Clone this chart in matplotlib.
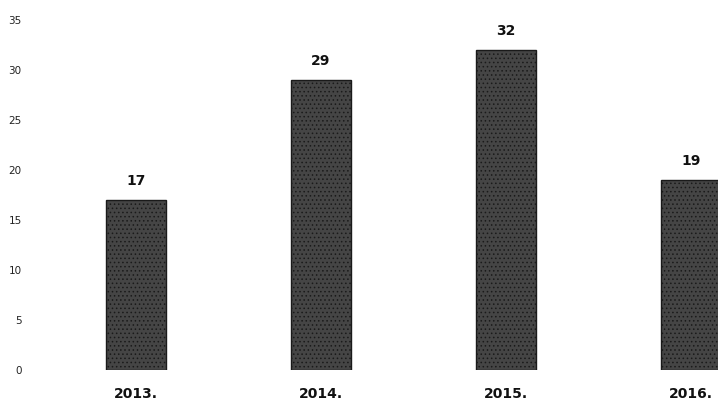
import matplotlib
matplotlib.use('Agg')
import matplotlib.pyplot as plt

years = ['2013.', '2014.', '2015.', '2016.']
values = [17, 29, 32, 19]
yticks = [0, 5, 10, 15, 20, 25, 30, 35]

plt.rcParams['hatch.color'] = '#a8a8a8'
plt.rcParams['hatch.linewidth'] = 0.6

fig = plt.figure(figsize=(7.18, 4.03), dpi=100)
ax = fig.add_axes([30 / 718, 33 / 403, 688 / 718, 350 / 403])

x = list(range(len(values)))
bars = ax.bar(x, values, width=0.32, color='#454545', edgecolor='#1a1a1a',
              linewidth=1.0, hatch='....')

for xi, v in zip(x, values):
    ax.text(xi, v + 1.2, str(v), ha='center', va='bottom',
            fontsize=10, fontweight='bold', color='#111111')

ax.set_xlim(-0.573, 3.146)
ax.set_ylim(0, 35)
ax.set_yticks(yticks)
ax.set_yticklabels([str(t) for t in yticks], fontsize=7.5, color='#222222')
ax.set_xticks(x)
ax.set_xticklabels(years, fontsize=10, fontweight='bold', color='#111111')
ax.tick_params(axis='both', length=0)
ax.tick_params(axis='x', pad=12)
ax.tick_params(axis='y', pad=6)
for s in ax.spines.values():
    s.set_visible(False)

fig.savefig('out.png', dpi=100)
